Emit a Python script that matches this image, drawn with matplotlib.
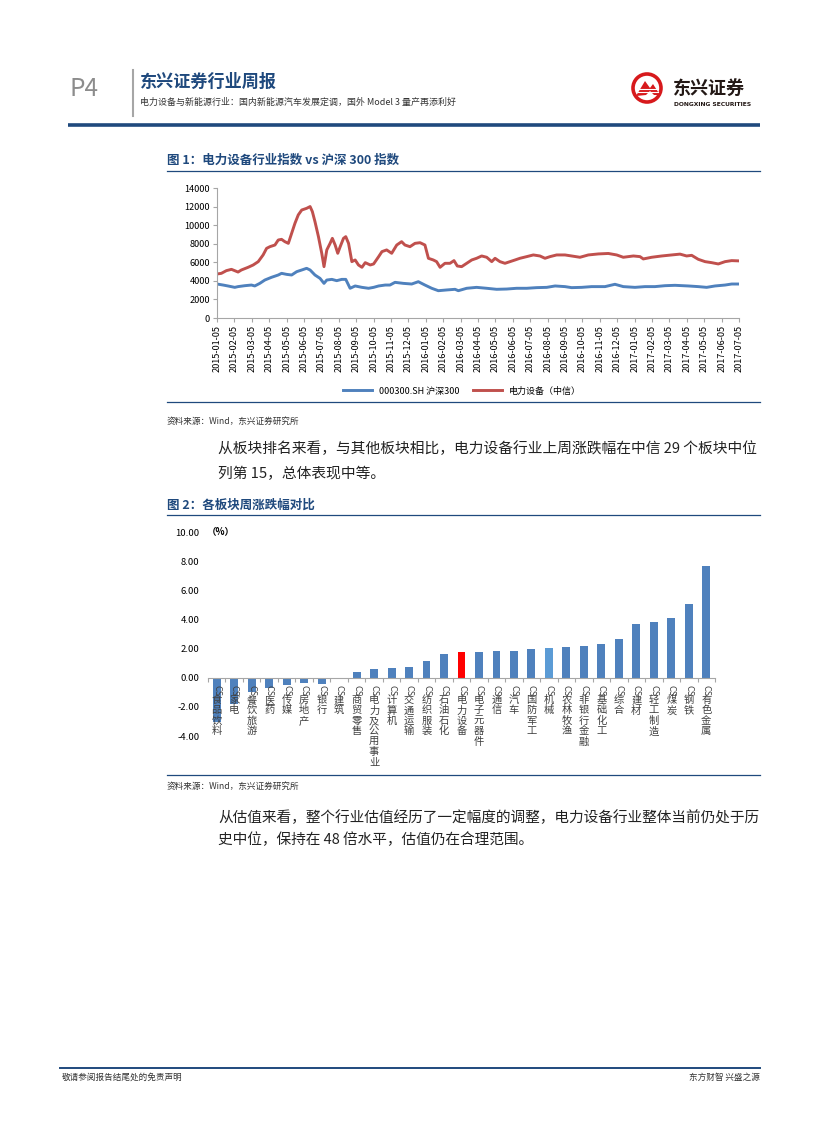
import matplotlib
matplotlib.use('Agg')
import matplotlib.pyplot as plt
import matplotlib.transforms as mtransforms
from matplotlib.patches import Circle, Polygon
import numpy as np

plt.rcParams['font.family'] = ['Noto Sans CJK SC', 'DejaVu Sans']

W, H = 827, 1122
NAVY = '#1F497D'
BLUE = '#4F81BD'
RED = '#C0504D'

# ---- chart 1: index lines (month index since 2015-01-05, value) ----
month_labels = ['2015-%02d-05' % m for m in range(1, 13)] + \
               ['2016-%02d-05' % m for m in range(1, 13)] + \
               ['2017-%02d-05' % m for m in range(1, 8)]

equip_m = [0.00, 0.25, 0.54, 0.83, 1.21, 1.40, 1.79, 2.08, 2.37, 2.65, 2.85, 3.04, 3.33,
           3.52, 3.71, 3.90, 4.10, 4.29, 4.48, 4.67, 4.87, 5.15, 5.35, 5.48, 5.63, 5.83,
           6.02, 6.15, 6.31, 6.50, 6.63, 6.79, 6.94, 7.08, 7.27, 7.40, 7.56, 7.75, 7.94,
           8.13, 8.33, 8.52, 8.81, 9.00, 9.29, 9.48, 9.75, 10.04, 10.33, 10.61, 10.80,
           11.09, 11.38, 11.67, 11.95, 12.15, 12.43, 12.62, 12.82, 13.10, 13.39, 13.62,
           13.81, 14.06, 14.35, 14.64, 14.92, 15.21, 15.50, 15.79, 15.98, 16.26, 16.55,
           16.84, 17.13, 17.41, 17.80, 18.18, 18.56, 18.85, 19.14, 19.52, 20.00, 20.38,
           20.86, 21.34, 21.92, 22.49, 22.97, 23.35, 23.93, 24.31, 24.50, 24.98, 25.56,
           26.13, 26.61, 26.99, 27.28, 27.66, 28.05, 28.43, 28.81, 29.20, 29.58, 30.00]
equip_v = [4740, 4810, 5100, 5240, 4950, 5170, 5460, 5710, 6070, 6790, 7500, 7680, 7860,
           8400, 8470, 8220, 8040, 9120, 10200, 11100, 11630, 11810, 12000, 11460, 10380,
           8760, 6970, 5530, 7330, 8040, 8580, 7860, 6970, 7680, 8580, 8760, 8040, 6070,
           6250, 5710, 5460, 5960, 5710, 5820, 6610, 7150, 7330, 6970, 7860, 8220, 7860,
           7680, 8040, 8110, 7860, 6430, 6250, 6070, 5460, 5890, 5890, 6180, 5600, 5530,
           5890, 6250, 6430, 6680, 6540, 6070, 6430, 6070, 5890, 6070, 6250, 6430, 6610,
           6790, 6680, 6430, 6610, 6790, 6790, 6680, 6540, 6790, 6900, 6950, 6790, 6540,
           6680, 6610, 6360, 6540, 6680, 6790, 6880, 6680, 6750, 6320, 6070, 5960, 5820,
           6070, 6180, 6150]

hs300_m = [0.00, 0.35, 0.63, 1.02, 1.21, 1.60, 1.98, 2.17, 2.46, 2.75, 3.13, 3.52, 3.71,
           4.00, 4.29, 4.58, 4.87, 5.15, 5.35, 5.63, 5.92, 6.15, 6.31, 6.60, 6.88, 7.17,
           7.40, 7.65, 7.94, 8.33, 8.71, 9.00, 9.29, 9.67, 9.94, 10.23, 10.71, 11.19,
           11.57, 11.95, 12.34, 12.72, 13.20, 13.68, 13.87, 14.35, 14.92, 15.50, 16.07,
           16.65, 17.22, 17.80, 18.37, 18.95, 19.43, 20.00, 20.38, 20.96, 21.53, 22.30,
           22.87, 23.35, 24.02, 24.60, 25.17, 25.75, 26.32, 27.09, 27.66, 28.14, 28.62,
           29.20, 29.58, 30.00]
hs300_v = [3660, 3550, 3450, 3300, 3380, 3480, 3550, 3450, 3730, 4090, 4380, 4630, 4810,
           4700, 4630, 4990, 5170, 5350, 5170, 4630, 4270, 3730, 4090, 4160, 4020, 4160,
           4160, 3200, 3450, 3300, 3200, 3300, 3450, 3550, 3550, 3840, 3730, 3660, 3910,
           3550, 3200, 2940, 3020, 3090, 2940, 3200, 3300, 3200, 3090, 3120, 3200, 3200,
           3270, 3300, 3450, 3380, 3270, 3300, 3380, 3380, 3630, 3380, 3300, 3380, 3380,
           3480, 3520, 3450, 3380, 3300, 3450, 3550, 3660, 3660]

# ---- chart 2: weekly change by sector (%) ----
sectors = ['CS食品饮料', 'CS家电', 'CS餐饮旅游', 'CS医药', 'CS传媒', 'CS房地产', 'CS银行',
           'CS建筑', 'CS商贸零售', 'CS电力及公用事业', 'CS计算机', 'CS交通运输', 'CS纺织服装',
           'CS石油石化', 'CS电力设备', 'CS电子元器件', 'CS通信', 'CS汽车', 'CS国防军工',
           'CS机械', 'CS农林牧渔', 'CS非银行金融', 'CS基础化工', 'CS综合', 'CS建材',
           'CS轻工制造', 'CS煤炭', 'CS钢铁', 'CS有色金属']
changes = [-3.05, -1.78, -1.00, -0.70, -0.50, -0.38, -0.40, -0.05, 0.41, 0.57, 0.66, 0.73,
           1.17, 1.65, 1.74, 1.74, 1.81, 1.86, 1.95, 2.02, 2.14, 2.15, 2.33, 2.66, 3.72,
           3.82, 4.10, 5.07, 7.66]


def px_rect(l, t, r, b):
    return [l / W, 1 - b / H, (r - l) / W, (b - t) / H]


fig = plt.figure(figsize=(W / 100, H / 100), dpi=100)

# page layer in pixel coordinates
page = fig.add_axes([0, 0, 1, 1])
page.set_xlim(0, W)
page.set_ylim(H, 0)
page.axis('off')

# header
page.text(70, 89, 'P4', fontsize=17.5, color='#8C8C8C', va='center', ha='left')
page.plot([133, 133], [70, 116], color='#A6A6A6', lw=1.5)
page.text(140, 82, '东兴证券行业周报', fontsize=12.3, fontweight='bold', color=NAVY,
          va='center', ha='left')
page.text(140, 102, '电力设备与新能源行业：国内新能源汽车发展定调，国外 Model 3 量产再添利好',
          fontsize=6.45, color='#333333', va='center', ha='left')

# logo
page.add_patch(Circle((647, 88), 14, fill=False, ec='#D7191C', lw=2.6))
page.add_patch(Polygon([[636, 96], [645, 81], [650, 88], [653, 84], [660, 95], [654, 95],
                        [650, 91], [646, 95]], closed=True, fc='#D7191C', ec='none'))
for yy in (89, 92):
    page.plot([638, 658], [yy, yy], color='white', lw=0.8)
page.text(673, 88, '东兴证券', fontsize=13, fontweight='bold', color='#231815',
          va='center', ha='left')
page.text(674, 104.5, 'DONGXING SECURITIES', fontsize=4.3, fontweight='bold',
          color='#231815', va='center', ha='left', family='DejaVu Sans')

page.plot([68, 760], [124.5, 124.5], color=NAVY, lw=2.6, solid_capstyle='butt')

# figure 1 frame
page.text(167, 160, '图 1：电力设备行业指数 vs 沪深 300 指数', fontsize=9.0, fontweight='bold',
          color=NAVY, va='center', ha='left')
page.plot([167, 760], [171, 171], color=NAVY, lw=0.9)
page.plot([167, 760], [402, 402], color=NAVY, lw=0.9)
page.text(167, 421, '资料来源：Wind，东兴证券研究所', fontsize=6.2, style='italic',
          color='#333333', va='center', ha='left')

body_kw = dict(fontsize=10.62, color='#222222', va='center', ha='left')
page.text(218, 449, '从板块排名来看，与其他板块相比，电力设备行业上周涨跌幅在中信 29 个板块中位', **body_kw)
page.text(218, 474, '列第 15，总体表现中等。', **body_kw)

# figure 2 frame
page.text(167, 505, '图 2：各板块周涨跌幅对比', fontsize=9.0, fontweight='bold',
          color=NAVY, va='center', ha='left')
page.plot([167, 760], [515, 515], color=NAVY, lw=0.9)
page.plot([167, 760], [775, 775], color=NAVY, lw=0.9)
page.text(167, 786, '资料来源：Wind，东兴证券研究所', fontsize=6.2, style='italic',
          color='#333333', va='center', ha='left')
body_kw['fontsize'] = 10.55
page.text(218, 818, '从估值来看，整个行业估值经历了一定幅度的调整，电力设备行业整体当前仍处于历', **body_kw)
page.text(218, 840, '史中位，保持在 48 倍水平，估值仍在合理范围。', **body_kw)

# footer
page.plot([60, 760], [1068, 1068], color=NAVY, lw=1.4)
page.text(62, 1077, '敬请参阅报告结尾处的免责声明', fontsize=6.2, color='#333333',
          va='center', ha='left')
page.text(760, 1077, '东方财智 兴盛之源', fontsize=6.2, color='#333333',
          va='center', ha='right')

# ---- chart 1 ----
ax1 = fig.add_axes(px_rect(217, 188, 739, 318))
ax1.set_facecolor('none')
ax1.plot(hs300_m, hs300_v, color=BLUE, lw=2.1, label='000300.SH 沪深300')
ax1.plot(equip_m, equip_v, color=RED, lw=2.1, label='电力设备（中信）')
ax1.set_xlim(0, 30)
ax1.set_ylim(0, 14000)
ax1.set_yticks(range(0, 14001, 2000))
ax1.set_xticks(range(len(month_labels)))
ax1.set_xticklabels(month_labels, rotation=90, fontsize=6.6)
ax1.tick_params(axis='y', labelsize=6.6, length=3, color='#A6A6A6', pad=2)
ax1.tick_params(axis='x', length=3, color='#A6A6A6', pad=2)
for s in ('top', 'right'):
    ax1.spines[s].set_visible(False)
for s in ('left', 'bottom'):
    ax1.spines[s].set_color('#A6A6A6')
    ax1.spines[s].set_linewidth(0.8)
fig.legend(*ax1.get_legend_handles_labels(), loc='center', ncol=2, frameon=False,
           fontsize=6.5, handlelength=3.2, columnspacing=1.5,
           bbox_to_anchor=(462 / W, 1 - 391 / H))

# ---- chart 2 ----
ax2 = fig.add_axes(px_rect(208, 532, 715, 736))
ax2.set_facecolor('none')
x = np.arange(len(sectors))
bar_colors = [BLUE] * len(sectors)
bar_colors[sectors.index('CS电力设备')] = '#FF0000'
bar_colors[sectors.index('CS机械')] = '#5B9BD5'
ax2.bar(x, changes, width=0.45, color=bar_colors, zorder=2)
ax2.set_xlim(-0.5, len(sectors) - 0.5)
ax2.set_ylim(-4, 10)
ax2.set_yticks(np.arange(-4, 10.1, 2))
ax2.set_yticklabels(['%.2f' % v for v in np.arange(-4, 10.1, 2)])
ax2.tick_params(axis='y', length=0, labelsize=6.8, pad=6)
ax2.set_xticks(np.arange(-0.5, len(sectors), 1))
ax2.set_xticklabels([])
ax2.tick_params(axis='x', length=3, color='#A6A6A6', direction='out')
for s in ('top', 'right', 'left'):
    ax2.spines[s].set_visible(False)
ax2.spines['bottom'].set_position(('data', 0))
ax2.spines['bottom'].set_color('#A6A6A6')
ax2.spines['bottom'].set_linewidth(0.8)
ax2.text(-0.6, 10, '（%）', fontsize=6.8, fontweight='bold', va='center', ha='left')

trans = mtransforms.blended_transform_factory(ax2.transData, fig.transFigure)
for i, name in enumerate(sectors):
    ax2.text(i, 1 - 685 / H, 'CS', rotation=270, fontsize=6.5, color='#404040',
             ha='center', va='top', transform=trans, zorder=5)
    ax2.text(i, 1 - 695 / H, '\n'.join(name[2:]), fontsize=7.4, color='#404040',
             ha='center', va='top', linespacing=1.05, transform=trans, zorder=5)

fig.savefig('out.png', dpi=100)
